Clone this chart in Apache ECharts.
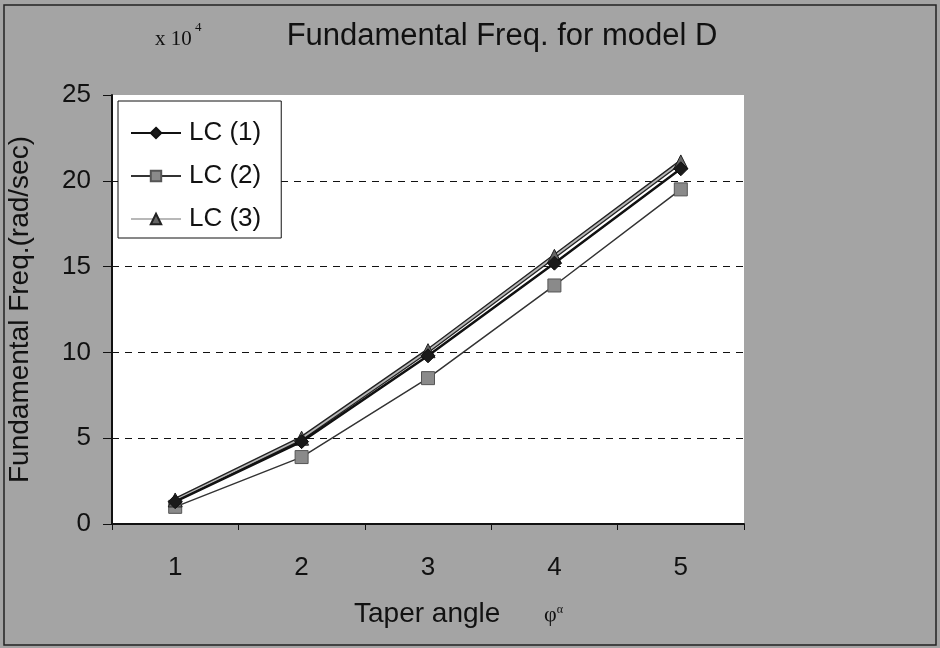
<!DOCTYPE html>
<html>
<head>
<meta charset="utf-8">
<script src="https://cdn.jsdelivr.net/npm/echarts@6/dist/echarts.min.js"></script>
<style>
  html, body { margin: 0; padding: 0; background: #ffffff; }
  #chart { width: 940px; height: 648px; }
</style>
</head>
<body>
<div id="chart"></div>
<script>
// Taper angle categories (degrees)
const taperAngles = ['1', '2', '3', '4', '5'];

// Fundamental frequency, in units of 10^4 rad/sec
const lc1 = [1.3, 4.8, 9.8, 15.2, 20.7];
const lc2 = [1.0, 3.9, 8.5, 13.9, 19.5];
const lc3 = [1.4, 5.0, 10.1, 15.6, 21.1];

const seriesNames = ['LC (1)', 'LC (2)', 'LC (3)'];

const yTicks = { min: 0, max: 25, interval: 5 };

const chart = echarts.init(document.getElementById('chart'), null, { renderer: 'canvas' });

const sans = 'Liberation Sans, Arial, sans-serif';
const serif = 'Liberation Serif, Times New Roman, serif';
const ink = '#111';

chart.setOption({
  backgroundColor: '#a4a4a4',
  animation: false,
  title: {
    text: 'Fundamental Freq. for model D',
    left: 497,
    textAlign: 'center',
    top: 16,
    textStyle: { fontFamily: sans, fontSize: 31, fontWeight: 'normal', color: ink }
  },
  legend: {
    orient: 'vertical',
    left: 118,
    top: 101,
    padding: [19, 20, 6, 12],
    itemGap: 17,
    itemWidth: 50,
    itemHeight: 13,
    backgroundColor: '#ffffff',
    borderColor: ink,
    borderWidth: 1,
    textStyle: { fontFamily: sans, fontSize: 26, color: ink, padding: [0, 0, 0, 3] },
    data: seriesNames
  },
  grid: {
    left: 112, right: 196, top: 95, bottom: 124,
    outerBoundsMode: 'none',
    containLabel: false,
    show: true, backgroundColor: '#ffffff', borderWidth: 0
  },
  xAxis: {
    type: 'category',
    data: taperAngles,
    boundaryGap: true,
    axisLine: { lineStyle: { color: ink, width: 2 } },
    axisTick: { show: true, length: 6, lineStyle: { color: ink } },
    axisLabel: { margin: 31, fontFamily: sans, fontSize: 26, color: ink },
    splitLine: { show: false }
  },
  yAxis: {
    type: 'value',
    min: yTicks.min, max: yTicks.max, interval: yTicks.interval,
    name: 'Fundamental Freq.(rad/sec)',
    nameLocation: 'middle',
    nameGap: 78,
    nameTextStyle: { fontFamily: sans, fontSize: 28, color: ink },
    axisLine: { show: true, lineStyle: { color: ink, width: 2 } },
    axisTick: { show: true, length: 9, lineStyle: { color: ink } },
    axisLabel: { margin: 21, fontFamily: sans, fontSize: 26, color: ink },
    splitLine: {
      show: true, showMinLine: false, showMaxLine: false,
      lineStyle: { color: ink, type: [7, 6], width: 1 }
    }
  },
  series: [
    {
      // dark edging under the LC (3) line
      name: 'LC (3) edge', type: 'line', data: lc3,
      symbol: 'none', silent: true,
      lineStyle: { color: '#222', width: 4.5 },
      z: 4
    },
    {
      name: seriesNames[0], type: 'line', data: lc1,
      symbol: 'diamond', symbolSize: 14,
      lineStyle: { color: ink, width: 2.5 },
      itemStyle: { color: '#1a1a1a', borderColor: ink, borderWidth: 1 },
      z: 6
    },
    {
      name: seriesNames[1], type: 'line', data: lc2,
      symbol: 'rect', symbolSize: 13,
      lineStyle: { color: '#333', width: 1.5 },
      itemStyle: { color: '#8a8a8a', borderColor: '#555', borderWidth: 1 },
      z: 3
    },
    {
      name: seriesNames[2], type: 'line', data: lc3,
      symbol: 'triangle', symbolSize: 14,
      lineStyle: { color: '#b8b8b8', width: 1.8 },
      itemStyle: { color: '#666', borderColor: '#222', borderWidth: 1 },
      z: 5
    }
  ],
  graphic: [
    {
      type: 'rect',
      shape: { x: 4, y: 5, width: 932, height: 640 },
      style: { fill: 'none', stroke: '#222', lineWidth: 1.5 },
      silent: true
    },
    {
      type: 'text',
      left: 155, top: 21,
      style: {
        text: '{m|x 10}{s| 4}',
        rich: {
          m: { fontFamily: serif, fontSize: 21, fill: ink, padding: [8, 0, 0, 0] },
          s: { fontFamily: serif, fontSize: 13, fill: ink, verticalAlign: 'top' }
        }
      }
    },
    {
      type: 'text',
      left: 354, top: 600,
      style: { text: 'Taper angle', fontFamily: sans, fontSize: 28, fill: ink }
    },
    {
      type: 'text',
      left: 544, top: 604,
      style: {
        text: '{p|φ}{o|α}',
        rich: {
          p: { fontFamily: serif, fontSize: 22, fill: ink },
          o: { fontFamily: serif, fontSize: 12, fill: ink, verticalAlign: 'top' }
        }
      }
    }
  ]
});
</script>
</body>
</html>
